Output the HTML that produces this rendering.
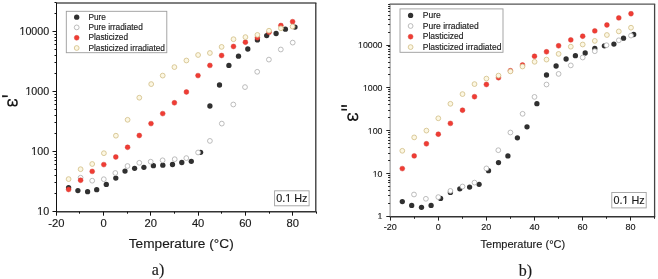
<!DOCTYPE html>
<html><head><meta charset="utf-8"><style>
html,body{margin:0;padding:0;background:#fff;}
body{width:658px;height:279px;overflow:hidden;}
svg{display:block;filter:blur(0.35px);font-family:"Liberation Sans",sans-serif;}
svg text{fill:#1a1a1a;stroke:#1a1a1a;stroke-width:0.15px;}
</style></head><body>
<svg width="658" height="279" viewBox="0 0 658 279">
<line x1="56.0" y1="3.0" x2="316.40000000000003" y2="3.0" stroke="#555" stroke-width="1.3"/>
<line x1="315.8" y1="3.0" x2="315.8" y2="211.7" stroke="#333" stroke-width="1.3"/>
<line x1="56.0" y1="211.7" x2="316.40000000000003" y2="211.7" stroke="#333" stroke-width="1.4"/>
<line x1="56.5" y1="3.0" x2="56.5" y2="211.7" stroke="#111" stroke-width="1"/>
<line x1="56.50" y1="211.7" x2="56.50" y2="215.7" stroke="#111" stroke-width="1"/>
<text x="56.30" y="227.30" font-size="11.2" text-anchor="middle">-20</text>
<line x1="79.50" y1="211.7" x2="79.50" y2="213.7" stroke="#111" stroke-width="1"/>
<line x1="103.50" y1="211.7" x2="103.50" y2="215.7" stroke="#111" stroke-width="1"/>
<text x="103.57" y="227.30" font-size="11.2" text-anchor="middle">0</text>
<line x1="127.50" y1="211.7" x2="127.50" y2="213.7" stroke="#111" stroke-width="1"/>
<line x1="150.50" y1="211.7" x2="150.50" y2="215.7" stroke="#111" stroke-width="1"/>
<text x="150.84" y="227.30" font-size="11.2" text-anchor="middle">20</text>
<line x1="174.50" y1="211.7" x2="174.50" y2="213.7" stroke="#111" stroke-width="1"/>
<line x1="198.50" y1="211.7" x2="198.50" y2="215.7" stroke="#111" stroke-width="1"/>
<text x="198.11" y="227.30" font-size="11.2" text-anchor="middle">40</text>
<line x1="221.50" y1="211.7" x2="221.50" y2="213.7" stroke="#111" stroke-width="1"/>
<line x1="245.50" y1="211.7" x2="245.50" y2="215.7" stroke="#111" stroke-width="1"/>
<text x="245.38" y="227.30" font-size="11.2" text-anchor="middle">60</text>
<line x1="269.50" y1="211.7" x2="269.50" y2="213.7" stroke="#111" stroke-width="1"/>
<line x1="292.50" y1="211.7" x2="292.50" y2="215.7" stroke="#111" stroke-width="1"/>
<text x="292.65" y="227.30" font-size="11.2" text-anchor="middle">80</text>
<line x1="316.50" y1="211.7" x2="316.50" y2="213.7" stroke="#111" stroke-width="1"/>
<line x1="52.5" y1="211.50" x2="56.5" y2="211.50" stroke="#111" stroke-width="1"/>
<text x="49.20" y="215.30" font-size="10.7" text-anchor="end">10</text>
<rect x="37.09" y="214.18" width="2.84" height="1.60" fill="#fff"/>
<rect x="40.91" y="214.18" width="2.41" height="1.60" fill="#fff"/>
<line x1="54.5" y1="193.50" x2="56.5" y2="193.50" stroke="#111" stroke-width="1"/>
<line x1="54.5" y1="182.50" x2="56.5" y2="182.50" stroke="#111" stroke-width="1"/>
<line x1="54.5" y1="175.50" x2="56.5" y2="175.50" stroke="#111" stroke-width="1"/>
<line x1="54.5" y1="169.50" x2="56.5" y2="169.50" stroke="#111" stroke-width="1"/>
<line x1="54.5" y1="164.50" x2="56.5" y2="164.50" stroke="#111" stroke-width="1"/>
<line x1="54.5" y1="160.50" x2="56.5" y2="160.50" stroke="#111" stroke-width="1"/>
<line x1="54.5" y1="157.50" x2="56.5" y2="157.50" stroke="#111" stroke-width="1"/>
<line x1="54.5" y1="154.50" x2="56.5" y2="154.50" stroke="#111" stroke-width="1"/>
<line x1="52.5" y1="151.50" x2="56.5" y2="151.50" stroke="#111" stroke-width="1"/>
<text x="49.20" y="155.30" font-size="10.7" text-anchor="end">100</text>
<rect x="31.14" y="154.18" width="2.84" height="1.60" fill="#fff"/>
<rect x="34.96" y="154.18" width="2.41" height="1.60" fill="#fff"/>
<line x1="54.5" y1="133.50" x2="56.5" y2="133.50" stroke="#111" stroke-width="1"/>
<line x1="54.5" y1="122.50" x2="56.5" y2="122.50" stroke="#111" stroke-width="1"/>
<line x1="54.5" y1="115.50" x2="56.5" y2="115.50" stroke="#111" stroke-width="1"/>
<line x1="54.5" y1="109.50" x2="56.5" y2="109.50" stroke="#111" stroke-width="1"/>
<line x1="54.5" y1="104.50" x2="56.5" y2="104.50" stroke="#111" stroke-width="1"/>
<line x1="54.5" y1="100.50" x2="56.5" y2="100.50" stroke="#111" stroke-width="1"/>
<line x1="54.5" y1="97.50" x2="56.5" y2="97.50" stroke="#111" stroke-width="1"/>
<line x1="54.5" y1="94.50" x2="56.5" y2="94.50" stroke="#111" stroke-width="1"/>
<line x1="52.5" y1="91.50" x2="56.5" y2="91.50" stroke="#111" stroke-width="1"/>
<text x="49.20" y="95.30" font-size="10.7" text-anchor="end">1000</text>
<rect x="25.19" y="94.18" width="2.84" height="1.60" fill="#fff"/>
<rect x="29.01" y="94.18" width="2.41" height="1.60" fill="#fff"/>
<line x1="54.5" y1="73.50" x2="56.5" y2="73.50" stroke="#111" stroke-width="1"/>
<line x1="54.5" y1="62.50" x2="56.5" y2="62.50" stroke="#111" stroke-width="1"/>
<line x1="54.5" y1="55.50" x2="56.5" y2="55.50" stroke="#111" stroke-width="1"/>
<line x1="54.5" y1="49.50" x2="56.5" y2="49.50" stroke="#111" stroke-width="1"/>
<line x1="54.5" y1="44.50" x2="56.5" y2="44.50" stroke="#111" stroke-width="1"/>
<line x1="54.5" y1="40.50" x2="56.5" y2="40.50" stroke="#111" stroke-width="1"/>
<line x1="54.5" y1="37.50" x2="56.5" y2="37.50" stroke="#111" stroke-width="1"/>
<line x1="54.5" y1="34.50" x2="56.5" y2="34.50" stroke="#111" stroke-width="1"/>
<line x1="52.5" y1="31.50" x2="56.5" y2="31.50" stroke="#111" stroke-width="1"/>
<text x="49.20" y="35.30" font-size="10.7" text-anchor="end">10000</text>
<rect x="19.24" y="34.18" width="2.84" height="1.60" fill="#fff"/>
<rect x="23.06" y="34.18" width="2.41" height="1.60" fill="#fff"/>
<line x1="54.5" y1="13.50" x2="56.5" y2="13.50" stroke="#111" stroke-width="1"/>
<line x1="54.5" y1="2.50" x2="56.5" y2="2.50" stroke="#111" stroke-width="1"/>
<circle cx="68.6" cy="187.6" r="2.65" fill="#303030"/>
<circle cx="77.9" cy="190.6" r="2.65" fill="#303030"/>
<circle cx="87.6" cy="191.7" r="2.65" fill="#303030"/>
<circle cx="96.7" cy="189.7" r="2.65" fill="#303030"/>
<circle cx="106.3" cy="184.4" r="2.65" fill="#303030"/>
<circle cx="115.8" cy="178.1" r="2.65" fill="#303030"/>
<circle cx="125.0" cy="171.1" r="2.65" fill="#303030"/>
<circle cx="134.6" cy="168.3" r="2.65" fill="#303030"/>
<circle cx="143.9" cy="167.3" r="2.65" fill="#303030"/>
<circle cx="153.4" cy="165.7" r="2.65" fill="#303030"/>
<circle cx="162.8" cy="165.2" r="2.65" fill="#303030"/>
<circle cx="172.5" cy="164.5" r="2.65" fill="#303030"/>
<circle cx="181.8" cy="162.5" r="2.65" fill="#303030"/>
<circle cx="191.3" cy="161.3" r="2.65" fill="#303030"/>
<circle cx="200.6" cy="152.3" r="2.65" fill="#303030"/>
<circle cx="209.9" cy="106.0" r="2.65" fill="#303030"/>
<circle cx="219.5" cy="85.0" r="2.65" fill="#303030"/>
<circle cx="228.9" cy="65.4" r="2.65" fill="#303030"/>
<circle cx="238.5" cy="56.2" r="2.65" fill="#303030"/>
<circle cx="247.8" cy="49.0" r="2.65" fill="#303030"/>
<circle cx="257.4" cy="39.9" r="2.65" fill="#303030"/>
<circle cx="266.7" cy="35.6" r="2.65" fill="#303030"/>
<circle cx="276.1" cy="33.5" r="2.65" fill="#303030"/>
<circle cx="285.4" cy="29.2" r="2.65" fill="#303030"/>
<circle cx="295.0" cy="27.1" r="2.65" fill="#303030"/>
<circle cx="80.6" cy="177.7" r="2.4" fill="#fff" stroke="#b0b0b0" stroke-width="0.85"/>
<circle cx="92.2" cy="180.7" r="2.4" fill="#fff" stroke="#b0b0b0" stroke-width="0.85"/>
<circle cx="103.8" cy="179.2" r="2.4" fill="#fff" stroke="#b0b0b0" stroke-width="0.85"/>
<circle cx="115.3" cy="173.0" r="2.4" fill="#fff" stroke="#b0b0b0" stroke-width="0.85"/>
<circle cx="127.5" cy="166.0" r="2.4" fill="#fff" stroke="#b0b0b0" stroke-width="0.85"/>
<circle cx="139.3" cy="162.8" r="2.4" fill="#fff" stroke="#b0b0b0" stroke-width="0.85"/>
<circle cx="150.7" cy="161.7" r="2.4" fill="#fff" stroke="#b0b0b0" stroke-width="0.85"/>
<circle cx="162.6" cy="160.3" r="2.4" fill="#fff" stroke="#b0b0b0" stroke-width="0.85"/>
<circle cx="174.7" cy="159.2" r="2.4" fill="#fff" stroke="#b0b0b0" stroke-width="0.85"/>
<circle cx="186.3" cy="158.1" r="2.4" fill="#fff" stroke="#b0b0b0" stroke-width="0.85"/>
<circle cx="198.1" cy="152.5" r="2.4" fill="#fff" stroke="#b0b0b0" stroke-width="0.85"/>
<circle cx="209.9" cy="140.9" r="2.4" fill="#fff" stroke="#b0b0b0" stroke-width="0.85"/>
<circle cx="221.8" cy="123.6" r="2.4" fill="#fff" stroke="#b0b0b0" stroke-width="0.85"/>
<circle cx="233.3" cy="104.5" r="2.4" fill="#fff" stroke="#b0b0b0" stroke-width="0.85"/>
<circle cx="245.0" cy="87.1" r="2.4" fill="#fff" stroke="#b0b0b0" stroke-width="0.85"/>
<circle cx="257.2" cy="71.8" r="2.4" fill="#fff" stroke="#b0b0b0" stroke-width="0.85"/>
<circle cx="268.9" cy="59.6" r="2.4" fill="#fff" stroke="#b0b0b0" stroke-width="0.85"/>
<circle cx="280.8" cy="49.5" r="2.4" fill="#fff" stroke="#b0b0b0" stroke-width="0.85"/>
<circle cx="292.7" cy="42.6" r="2.4" fill="#fff" stroke="#b0b0b0" stroke-width="0.85"/>
<circle cx="68.6" cy="189.5" r="2.4499999999999997" fill="#f03c34" stroke="#d23a32" stroke-width="0.45"/>
<circle cx="80.6" cy="180.3" r="2.4499999999999997" fill="#f03c34" stroke="#d23a32" stroke-width="0.45"/>
<circle cx="92.2" cy="171.4" r="2.4499999999999997" fill="#f03c34" stroke="#d23a32" stroke-width="0.45"/>
<circle cx="103.8" cy="164.6" r="2.4499999999999997" fill="#f03c34" stroke="#d23a32" stroke-width="0.45"/>
<circle cx="115.8" cy="157.0" r="2.4499999999999997" fill="#f03c34" stroke="#d23a32" stroke-width="0.45"/>
<circle cx="127.6" cy="147.3" r="2.4499999999999997" fill="#f03c34" stroke="#d23a32" stroke-width="0.45"/>
<circle cx="139.3" cy="135.5" r="2.4499999999999997" fill="#f03c34" stroke="#d23a32" stroke-width="0.45"/>
<circle cx="151.0" cy="123.6" r="2.4499999999999997" fill="#f03c34" stroke="#d23a32" stroke-width="0.45"/>
<circle cx="162.7" cy="113.6" r="2.4499999999999997" fill="#f03c34" stroke="#d23a32" stroke-width="0.45"/>
<circle cx="174.4" cy="102.8" r="2.4499999999999997" fill="#f03c34" stroke="#d23a32" stroke-width="0.45"/>
<circle cx="186.4" cy="92.0" r="2.4499999999999997" fill="#f03c34" stroke="#d23a32" stroke-width="0.45"/>
<circle cx="198.0" cy="75.6" r="2.4499999999999997" fill="#f03c34" stroke="#d23a32" stroke-width="0.45"/>
<circle cx="209.9" cy="65.4" r="2.4499999999999997" fill="#f03c34" stroke="#d23a32" stroke-width="0.45"/>
<circle cx="221.6" cy="55.5" r="2.4499999999999997" fill="#f03c34" stroke="#d23a32" stroke-width="0.45"/>
<circle cx="233.5" cy="46.5" r="2.4499999999999997" fill="#f03c34" stroke="#d23a32" stroke-width="0.45"/>
<circle cx="245.4" cy="42.2" r="2.4499999999999997" fill="#f03c34" stroke="#d23a32" stroke-width="0.45"/>
<circle cx="257.4" cy="37.7" r="2.4499999999999997" fill="#f03c34" stroke="#d23a32" stroke-width="0.45"/>
<circle cx="269.1" cy="32.3" r="2.4499999999999997" fill="#f03c34" stroke="#d23a32" stroke-width="0.45"/>
<circle cx="280.9" cy="25.5" r="2.4499999999999997" fill="#f03c34" stroke="#d23a32" stroke-width="0.45"/>
<circle cx="292.6" cy="21.7" r="2.4499999999999997" fill="#f03c34" stroke="#d23a32" stroke-width="0.45"/>
<circle cx="68.6" cy="179.1" r="2.4" fill="#fcf7e3" stroke="#d3c08a" stroke-width="0.85"/>
<circle cx="80.6" cy="169.2" r="2.4" fill="#fcf7e3" stroke="#d3c08a" stroke-width="0.85"/>
<circle cx="92.2" cy="164.0" r="2.4" fill="#fcf7e3" stroke="#d3c08a" stroke-width="0.85"/>
<circle cx="103.9" cy="153.2" r="2.4" fill="#fcf7e3" stroke="#d3c08a" stroke-width="0.85"/>
<circle cx="115.9" cy="135.7" r="2.4" fill="#fcf7e3" stroke="#d3c08a" stroke-width="0.85"/>
<circle cx="127.6" cy="119.8" r="2.4" fill="#fcf7e3" stroke="#d3c08a" stroke-width="0.85"/>
<circle cx="139.3" cy="97.7" r="2.4" fill="#fcf7e3" stroke="#d3c08a" stroke-width="0.85"/>
<circle cx="151.2" cy="84.1" r="2.4" fill="#fcf7e3" stroke="#d3c08a" stroke-width="0.85"/>
<circle cx="162.7" cy="75.6" r="2.4" fill="#fcf7e3" stroke="#d3c08a" stroke-width="0.85"/>
<circle cx="174.4" cy="67.1" r="2.4" fill="#fcf7e3" stroke="#d3c08a" stroke-width="0.85"/>
<circle cx="186.4" cy="60.5" r="2.4" fill="#fcf7e3" stroke="#d3c08a" stroke-width="0.85"/>
<circle cx="198.1" cy="55.0" r="2.4" fill="#fcf7e3" stroke="#d3c08a" stroke-width="0.85"/>
<circle cx="209.9" cy="53.0" r="2.4" fill="#fcf7e3" stroke="#d3c08a" stroke-width="0.85"/>
<circle cx="221.6" cy="46.9" r="2.4" fill="#fcf7e3" stroke="#d3c08a" stroke-width="0.85"/>
<circle cx="233.5" cy="39.2" r="2.4" fill="#fcf7e3" stroke="#d3c08a" stroke-width="0.85"/>
<circle cx="245.4" cy="37.1" r="2.4" fill="#fcf7e3" stroke="#d3c08a" stroke-width="0.85"/>
<circle cx="257.4" cy="34.9" r="2.4" fill="#fcf7e3" stroke="#d3c08a" stroke-width="0.85"/>
<circle cx="269.0" cy="30.7" r="2.4" fill="#fcf7e3" stroke="#d3c08a" stroke-width="0.85"/>
<circle cx="280.9" cy="28.3" r="2.4" fill="#fcf7e3" stroke="#d3c08a" stroke-width="0.85"/>
<circle cx="292.6" cy="26.6" r="2.4" fill="#fcf7e3" stroke="#d3c08a" stroke-width="0.85"/>
<rect x="66.3" y="11.3" width="100.50000000000001" height="41.400000000000006" fill="#fff" stroke="#9c9c9c" stroke-width="0.9"/>
<circle cx="76.7" cy="17.2" r="2.65" fill="#303030"/>
<text x="88.40" y="19.86" font-size="8.3">Pure</text>
<circle cx="76.7" cy="27.4" r="2.4" fill="#fff" stroke="#b0b0b0" stroke-width="0.85"/>
<text x="88.40" y="30.06" font-size="8.3">Pure irradiated</text>
<circle cx="76.7" cy="37.8" r="2.4499999999999997" fill="#f03c34" stroke="#d23a32" stroke-width="0.45"/>
<text x="88.40" y="40.46" font-size="8.3">Plasticized</text>
<circle cx="76.7" cy="48.0" r="2.4" fill="#fcf7e3" stroke="#d3c08a" stroke-width="0.85"/>
<text x="88.40" y="50.66" font-size="8.3">Plasticized irradiated</text>
<rect x="274.6" y="190.8" width="34.5" height="15.0" fill="#fff" stroke="#a0a0a0" stroke-width="0.9"/>
<text x="291.85" y="202.13" font-size="10.8" text-anchor="middle">0.1 Hz</text>
<rect x="285.03" y="201.00" width="2.86" height="1.62" fill="#fff"/>
<rect x="288.89" y="201.00" width="2.43" height="1.62" fill="#fff"/>
<text x="181.25" y="247.80" font-size="13.7" text-anchor="middle" textLength="104.9" lengthAdjust="spacingAndGlyphs">Temperature (°C)</text>
<path transform="translate(12.5,102.7) scale(0.94)" d="M-2.6,-3.0 C-4.2,-3.2 -4.8,-1.5 -4.8,0.2 C-4.8,2.2 -3.6,3.2 -2.3,3.2 C-1.0,3.2 -0.2,2.3 0,0.8 L0,-0.7 M0,0.8 C0.2,2.4 1.3,3.2 2.6,3.2 C4.0,3.2 4.8,2.0 4.8,0.2 C4.8,-1.5 4.2,-3.2 2.6,-3.0" fill="none" stroke="#1a1a1a" stroke-width="1.649" stroke-linecap="round"/>
<path d="M2.1,95.25 L7.8,95.44 L7.8,96.96000000000001 L2.1,97.15 Z" fill="#1a1a1a"/>
<text x="158.00" y="275.40" font-size="16" text-anchor="middle" font-family="Liberation Serif">a)</text>
<line x1="389.6" y1="4.15" x2="655.2" y2="4.15" stroke="#555" stroke-width="1.3"/>
<line x1="654.6" y1="4.15" x2="654.6" y2="216.8" stroke="#444" stroke-width="1.3"/>
<line x1="389.6" y1="216.8" x2="655.2" y2="216.8" stroke="#333" stroke-width="1.4"/>
<line x1="390.1" y1="4.15" x2="390.1" y2="216.8" stroke="#888" stroke-width="1"/>
<line x1="390.50" y1="216.8" x2="390.50" y2="220.60000000000002" stroke="#222" stroke-width="1"/>
<text x="390.20" y="230.20" font-size="9.0" text-anchor="middle">-20</text>
<line x1="414.50" y1="216.8" x2="414.50" y2="218.8" stroke="#222" stroke-width="1"/>
<line x1="438.50" y1="216.8" x2="438.50" y2="220.60000000000002" stroke="#222" stroke-width="1"/>
<text x="438.28" y="230.20" font-size="9.0" text-anchor="middle">0</text>
<line x1="462.50" y1="216.8" x2="462.50" y2="218.8" stroke="#222" stroke-width="1"/>
<line x1="486.50" y1="216.8" x2="486.50" y2="220.60000000000002" stroke="#222" stroke-width="1"/>
<text x="486.36" y="230.20" font-size="9.0" text-anchor="middle">20</text>
<line x1="510.50" y1="216.8" x2="510.50" y2="218.8" stroke="#222" stroke-width="1"/>
<line x1="534.50" y1="216.8" x2="534.50" y2="220.60000000000002" stroke="#222" stroke-width="1"/>
<text x="534.44" y="230.20" font-size="9.0" text-anchor="middle">40</text>
<line x1="558.50" y1="216.8" x2="558.50" y2="218.8" stroke="#222" stroke-width="1"/>
<line x1="582.50" y1="216.8" x2="582.50" y2="220.60000000000002" stroke="#222" stroke-width="1"/>
<text x="582.52" y="230.20" font-size="9.0" text-anchor="middle">60</text>
<line x1="606.50" y1="216.8" x2="606.50" y2="218.8" stroke="#222" stroke-width="1"/>
<line x1="630.50" y1="216.8" x2="630.50" y2="220.60000000000002" stroke="#222" stroke-width="1"/>
<text x="630.60" y="230.20" font-size="9.0" text-anchor="middle">80</text>
<line x1="654.50" y1="216.8" x2="654.50" y2="218.8" stroke="#222" stroke-width="1"/>
<line x1="386.3" y1="216.50" x2="390.1" y2="216.50" stroke="#222" stroke-width="1"/>
<text x="382.50" y="219.42" font-size="8.8" text-anchor="end">1</text>
<rect x="377.43" y="218.50" width="2.33" height="1.32" fill="#fff"/>
<rect x="380.57" y="218.50" width="1.98" height="1.32" fill="#fff"/>
<line x1="388.1" y1="203.50" x2="390.1" y2="203.50" stroke="#222" stroke-width="1"/>
<line x1="388.1" y1="195.50" x2="390.1" y2="195.50" stroke="#222" stroke-width="1"/>
<line x1="388.1" y1="190.50" x2="390.1" y2="190.50" stroke="#222" stroke-width="1"/>
<line x1="388.1" y1="186.50" x2="390.1" y2="186.50" stroke="#222" stroke-width="1"/>
<line x1="388.1" y1="182.50" x2="390.1" y2="182.50" stroke="#222" stroke-width="1"/>
<line x1="388.1" y1="180.50" x2="390.1" y2="180.50" stroke="#222" stroke-width="1"/>
<line x1="388.1" y1="177.50" x2="390.1" y2="177.50" stroke="#222" stroke-width="1"/>
<line x1="388.1" y1="175.50" x2="390.1" y2="175.50" stroke="#222" stroke-width="1"/>
<line x1="386.3" y1="173.50" x2="390.1" y2="173.50" stroke="#222" stroke-width="1"/>
<text x="382.50" y="176.59" font-size="8.8" text-anchor="end">10</text>
<rect x="372.54" y="175.67" width="2.33" height="1.32" fill="#fff"/>
<rect x="375.68" y="175.67" width="1.98" height="1.32" fill="#fff"/>
<line x1="388.1" y1="160.50" x2="390.1" y2="160.50" stroke="#222" stroke-width="1"/>
<line x1="388.1" y1="153.50" x2="390.1" y2="153.50" stroke="#222" stroke-width="1"/>
<line x1="388.1" y1="147.50" x2="390.1" y2="147.50" stroke="#222" stroke-width="1"/>
<line x1="388.1" y1="143.50" x2="390.1" y2="143.50" stroke="#222" stroke-width="1"/>
<line x1="388.1" y1="140.50" x2="390.1" y2="140.50" stroke="#222" stroke-width="1"/>
<line x1="388.1" y1="137.50" x2="390.1" y2="137.50" stroke="#222" stroke-width="1"/>
<line x1="388.1" y1="134.50" x2="390.1" y2="134.50" stroke="#222" stroke-width="1"/>
<line x1="388.1" y1="132.50" x2="390.1" y2="132.50" stroke="#222" stroke-width="1"/>
<line x1="386.3" y1="130.50" x2="390.1" y2="130.50" stroke="#222" stroke-width="1"/>
<text x="382.50" y="133.76" font-size="8.8" text-anchor="end">100</text>
<rect x="367.65" y="132.84" width="2.33" height="1.32" fill="#fff"/>
<rect x="370.79" y="132.84" width="1.98" height="1.32" fill="#fff"/>
<line x1="388.1" y1="117.50" x2="390.1" y2="117.50" stroke="#222" stroke-width="1"/>
<line x1="388.1" y1="110.50" x2="390.1" y2="110.50" stroke="#222" stroke-width="1"/>
<line x1="388.1" y1="104.50" x2="390.1" y2="104.50" stroke="#222" stroke-width="1"/>
<line x1="388.1" y1="100.50" x2="390.1" y2="100.50" stroke="#222" stroke-width="1"/>
<line x1="388.1" y1="97.50" x2="390.1" y2="97.50" stroke="#222" stroke-width="1"/>
<line x1="388.1" y1="94.50" x2="390.1" y2="94.50" stroke="#222" stroke-width="1"/>
<line x1="388.1" y1="91.50" x2="390.1" y2="91.50" stroke="#222" stroke-width="1"/>
<line x1="388.1" y1="89.50" x2="390.1" y2="89.50" stroke="#222" stroke-width="1"/>
<line x1="386.3" y1="87.50" x2="390.1" y2="87.50" stroke="#222" stroke-width="1"/>
<text x="382.50" y="90.93" font-size="8.8" text-anchor="end">1000</text>
<rect x="362.75" y="90.01" width="2.33" height="1.32" fill="#fff"/>
<rect x="365.89" y="90.01" width="1.98" height="1.32" fill="#fff"/>
<line x1="388.1" y1="74.50" x2="390.1" y2="74.50" stroke="#222" stroke-width="1"/>
<line x1="388.1" y1="67.50" x2="390.1" y2="67.50" stroke="#222" stroke-width="1"/>
<line x1="388.1" y1="62.50" x2="390.1" y2="62.50" stroke="#222" stroke-width="1"/>
<line x1="388.1" y1="57.50" x2="390.1" y2="57.50" stroke="#222" stroke-width="1"/>
<line x1="388.1" y1="54.50" x2="390.1" y2="54.50" stroke="#222" stroke-width="1"/>
<line x1="388.1" y1="51.50" x2="390.1" y2="51.50" stroke="#222" stroke-width="1"/>
<line x1="388.1" y1="49.50" x2="390.1" y2="49.50" stroke="#222" stroke-width="1"/>
<line x1="388.1" y1="46.50" x2="390.1" y2="46.50" stroke="#222" stroke-width="1"/>
<line x1="386.3" y1="45.50" x2="390.1" y2="45.50" stroke="#222" stroke-width="1"/>
<text x="382.50" y="48.10" font-size="8.8" text-anchor="end">10000</text>
<rect x="357.86" y="47.18" width="2.33" height="1.32" fill="#fff"/>
<rect x="361.00" y="47.18" width="1.98" height="1.32" fill="#fff"/>
<line x1="388.1" y1="32.50" x2="390.1" y2="32.50" stroke="#222" stroke-width="1"/>
<line x1="388.1" y1="24.50" x2="390.1" y2="24.50" stroke="#222" stroke-width="1"/>
<line x1="388.1" y1="19.50" x2="390.1" y2="19.50" stroke="#222" stroke-width="1"/>
<line x1="388.1" y1="15.50" x2="390.1" y2="15.50" stroke="#222" stroke-width="1"/>
<line x1="388.1" y1="11.50" x2="390.1" y2="11.50" stroke="#222" stroke-width="1"/>
<line x1="388.1" y1="8.50" x2="390.1" y2="8.50" stroke="#222" stroke-width="1"/>
<line x1="388.1" y1="6.50" x2="390.1" y2="6.50" stroke="#222" stroke-width="1"/>
<line x1="388.1" y1="4.50" x2="390.1" y2="4.50" stroke="#222" stroke-width="1"/>
<circle cx="402.3" cy="201.6" r="2.65" fill="#303030"/>
<circle cx="411.7" cy="205.4" r="2.65" fill="#303030"/>
<circle cx="421.5" cy="207.3" r="2.65" fill="#303030"/>
<circle cx="431.1" cy="205.4" r="2.65" fill="#303030"/>
<circle cx="440.6" cy="198.4" r="2.65" fill="#303030"/>
<circle cx="450.4" cy="192.4" r="2.65" fill="#303030"/>
<circle cx="459.8" cy="188.8" r="2.65" fill="#303030"/>
<circle cx="469.6" cy="187.1" r="2.65" fill="#303030"/>
<circle cx="479.1" cy="184.3" r="2.65" fill="#303030"/>
<circle cx="488.5" cy="170.7" r="2.65" fill="#303030"/>
<circle cx="498.5" cy="162.6" r="2.65" fill="#303030"/>
<circle cx="507.9" cy="155.9" r="2.65" fill="#303030"/>
<circle cx="517.4" cy="137.8" r="2.65" fill="#303030"/>
<circle cx="527.0" cy="126.8" r="2.65" fill="#303030"/>
<circle cx="536.9" cy="103.7" r="2.65" fill="#303030"/>
<circle cx="546.5" cy="75.0" r="2.65" fill="#303030"/>
<circle cx="556.1" cy="66.0" r="2.65" fill="#303030"/>
<circle cx="566.1" cy="59.0" r="2.65" fill="#303030"/>
<circle cx="575.4" cy="55.7" r="2.65" fill="#303030"/>
<circle cx="585.2" cy="53.0" r="2.65" fill="#303030"/>
<circle cx="594.8" cy="48.4" r="2.65" fill="#303030"/>
<circle cx="604.4" cy="45.8" r="2.65" fill="#303030"/>
<circle cx="613.9" cy="44.1" r="2.65" fill="#303030"/>
<circle cx="623.5" cy="38.2" r="2.65" fill="#303030"/>
<circle cx="633.7" cy="34.5" r="2.65" fill="#303030"/>
<circle cx="414.0" cy="194.5" r="2.4" fill="#fff" stroke="#b0b0b0" stroke-width="0.85"/>
<circle cx="425.9" cy="198.8" r="2.4" fill="#fff" stroke="#b0b0b0" stroke-width="0.85"/>
<circle cx="438.3" cy="197.1" r="2.4" fill="#fff" stroke="#b0b0b0" stroke-width="0.85"/>
<circle cx="450.4" cy="190.9" r="2.4" fill="#fff" stroke="#b0b0b0" stroke-width="0.85"/>
<circle cx="462.5" cy="186.5" r="2.4" fill="#fff" stroke="#b0b0b0" stroke-width="0.85"/>
<circle cx="474.5" cy="182.6" r="2.4" fill="#fff" stroke="#b0b0b0" stroke-width="0.85"/>
<circle cx="486.4" cy="168.4" r="2.4" fill="#fff" stroke="#b0b0b0" stroke-width="0.85"/>
<circle cx="498.3" cy="150.2" r="2.4" fill="#fff" stroke="#b0b0b0" stroke-width="0.85"/>
<circle cx="510.4" cy="132.5" r="2.4" fill="#fff" stroke="#b0b0b0" stroke-width="0.85"/>
<circle cx="522.6" cy="113.8" r="2.4" fill="#fff" stroke="#b0b0b0" stroke-width="0.85"/>
<circle cx="534.5" cy="96.9" r="2.4" fill="#fff" stroke="#b0b0b0" stroke-width="0.85"/>
<circle cx="546.5" cy="84.5" r="2.4" fill="#fff" stroke="#b0b0b0" stroke-width="0.85"/>
<circle cx="558.6" cy="73.9" r="2.4" fill="#fff" stroke="#b0b0b0" stroke-width="0.85"/>
<circle cx="570.8" cy="65.4" r="2.4" fill="#fff" stroke="#b0b0b0" stroke-width="0.85"/>
<circle cx="582.7" cy="57.5" r="2.4" fill="#fff" stroke="#b0b0b0" stroke-width="0.85"/>
<circle cx="594.8" cy="51.2" r="2.4" fill="#fff" stroke="#b0b0b0" stroke-width="0.85"/>
<circle cx="606.5" cy="45.2" r="2.4" fill="#fff" stroke="#b0b0b0" stroke-width="0.85"/>
<circle cx="618.8" cy="40.3" r="2.4" fill="#fff" stroke="#b0b0b0" stroke-width="0.85"/>
<circle cx="631.0" cy="35.6" r="2.4" fill="#fff" stroke="#b0b0b0" stroke-width="0.85"/>
<circle cx="402.3" cy="168.6" r="2.4499999999999997" fill="#f03c34" stroke="#d23a32" stroke-width="0.45"/>
<circle cx="414.2" cy="155.9" r="2.4499999999999997" fill="#f03c34" stroke="#d23a32" stroke-width="0.45"/>
<circle cx="426.4" cy="143.8" r="2.4499999999999997" fill="#f03c34" stroke="#d23a32" stroke-width="0.45"/>
<circle cx="438.3" cy="134.2" r="2.4499999999999997" fill="#f03c34" stroke="#d23a32" stroke-width="0.45"/>
<circle cx="450.4" cy="123.4" r="2.4499999999999997" fill="#f03c34" stroke="#d23a32" stroke-width="0.45"/>
<circle cx="462.5" cy="110.2" r="2.4499999999999997" fill="#f03c34" stroke="#d23a32" stroke-width="0.45"/>
<circle cx="474.5" cy="96.7" r="2.4499999999999997" fill="#f03c34" stroke="#d23a32" stroke-width="0.45"/>
<circle cx="486.4" cy="84.5" r="2.4499999999999997" fill="#f03c34" stroke="#d23a32" stroke-width="0.45"/>
<circle cx="498.5" cy="77.7" r="2.4499999999999997" fill="#f03c34" stroke="#d23a32" stroke-width="0.45"/>
<circle cx="510.4" cy="70.7" r="2.4499999999999997" fill="#f03c34" stroke="#d23a32" stroke-width="0.45"/>
<circle cx="522.5" cy="65.0" r="2.4499999999999997" fill="#f03c34" stroke="#d23a32" stroke-width="0.45"/>
<circle cx="534.5" cy="56.3" r="2.4499999999999997" fill="#f03c34" stroke="#d23a32" stroke-width="0.45"/>
<circle cx="546.5" cy="51.8" r="2.4499999999999997" fill="#f03c34" stroke="#d23a32" stroke-width="0.45"/>
<circle cx="558.6" cy="45.8" r="2.4499999999999997" fill="#f03c34" stroke="#d23a32" stroke-width="0.45"/>
<circle cx="570.8" cy="39.9" r="2.4499999999999997" fill="#f03c34" stroke="#d23a32" stroke-width="0.45"/>
<circle cx="582.7" cy="36.2" r="2.4499999999999997" fill="#f03c34" stroke="#d23a32" stroke-width="0.45"/>
<circle cx="594.8" cy="30.9" r="2.4499999999999997" fill="#f03c34" stroke="#d23a32" stroke-width="0.45"/>
<circle cx="606.9" cy="25.0" r="2.4499999999999997" fill="#f03c34" stroke="#d23a32" stroke-width="0.45"/>
<circle cx="618.8" cy="17.9" r="2.4499999999999997" fill="#f03c34" stroke="#d23a32" stroke-width="0.45"/>
<circle cx="631.0" cy="13.7" r="2.4499999999999997" fill="#f03c34" stroke="#d23a32" stroke-width="0.45"/>
<circle cx="402.3" cy="150.8" r="2.4" fill="#fcf7e3" stroke="#d3c08a" stroke-width="0.85"/>
<circle cx="414.2" cy="137.4" r="2.4" fill="#fcf7e3" stroke="#d3c08a" stroke-width="0.85"/>
<circle cx="426.4" cy="130.6" r="2.4" fill="#fcf7e3" stroke="#d3c08a" stroke-width="0.85"/>
<circle cx="438.3" cy="118.3" r="2.4" fill="#fcf7e3" stroke="#d3c08a" stroke-width="0.85"/>
<circle cx="450.4" cy="103.8" r="2.4" fill="#fcf7e3" stroke="#d3c08a" stroke-width="0.85"/>
<circle cx="462.5" cy="94.1" r="2.4" fill="#fcf7e3" stroke="#d3c08a" stroke-width="0.85"/>
<circle cx="474.5" cy="84.1" r="2.4" fill="#fcf7e3" stroke="#d3c08a" stroke-width="0.85"/>
<circle cx="486.4" cy="78.6" r="2.4" fill="#fcf7e3" stroke="#d3c08a" stroke-width="0.85"/>
<circle cx="498.5" cy="75.6" r="2.4" fill="#fcf7e3" stroke="#d3c08a" stroke-width="0.85"/>
<circle cx="510.4" cy="71.4" r="2.4" fill="#fcf7e3" stroke="#d3c08a" stroke-width="0.85"/>
<circle cx="522.5" cy="66.5" r="2.4" fill="#fcf7e3" stroke="#d3c08a" stroke-width="0.85"/>
<circle cx="534.6" cy="61.8" r="2.4" fill="#fcf7e3" stroke="#d3c08a" stroke-width="0.85"/>
<circle cx="546.5" cy="59.6" r="2.4" fill="#fcf7e3" stroke="#d3c08a" stroke-width="0.85"/>
<circle cx="558.6" cy="53.9" r="2.4" fill="#fcf7e3" stroke="#d3c08a" stroke-width="0.85"/>
<circle cx="570.8" cy="46.7" r="2.4" fill="#fcf7e3" stroke="#d3c08a" stroke-width="0.85"/>
<circle cx="582.7" cy="44.5" r="2.4" fill="#fcf7e3" stroke="#d3c08a" stroke-width="0.85"/>
<circle cx="594.8" cy="40.9" r="2.4" fill="#fcf7e3" stroke="#d3c08a" stroke-width="0.85"/>
<circle cx="606.9" cy="35.0" r="2.4" fill="#fcf7e3" stroke="#d3c08a" stroke-width="0.85"/>
<circle cx="618.8" cy="31.4" r="2.4" fill="#fcf7e3" stroke="#d3c08a" stroke-width="0.85"/>
<circle cx="631.0" cy="27.7" r="2.4" fill="#fcf7e3" stroke="#d3c08a" stroke-width="0.85"/>
<rect x="400.0" y="8.9" width="103.0" height="43.4" fill="#fff" stroke="#9c9c9c" stroke-width="0.9"/>
<circle cx="410.6" cy="15.4" r="2.65" fill="#303030"/>
<text x="422.80" y="18.13" font-size="8.53">Pure</text>
<circle cx="410.6" cy="26.0" r="2.4" fill="#fff" stroke="#b0b0b0" stroke-width="0.85"/>
<text x="422.80" y="28.73" font-size="8.53">Pure irradiated</text>
<circle cx="410.6" cy="36.7" r="2.4499999999999997" fill="#f03c34" stroke="#d23a32" stroke-width="0.45"/>
<text x="422.80" y="39.43" font-size="8.53">Plasticized</text>
<circle cx="410.6" cy="47.1" r="2.4" fill="#fcf7e3" stroke="#d3c08a" stroke-width="0.85"/>
<text x="422.80" y="49.83" font-size="8.53">Plasticized irradiated</text>
<rect x="611.8" y="192.5" width="34.40000000000009" height="15.400000000000006" fill="#fff" stroke="#a0a0a0" stroke-width="0.9"/>
<text x="629.00" y="204.03" font-size="10.8" text-anchor="middle">0.1 Hz</text>
<rect x="622.18" y="202.90" width="2.86" height="1.62" fill="#fff"/>
<rect x="626.04" y="202.90" width="2.43" height="1.62" fill="#fff"/>
<text x="522.85" y="247.70" font-size="11.1" text-anchor="middle" textLength="84.7" lengthAdjust="spacingAndGlyphs">Temperature (°C)</text>
<path transform="translate(352.8,116.9) scale(1.0)" d="M-2.6,-3.0 C-4.2,-3.2 -4.8,-1.5 -4.8,0.2 C-4.8,2.2 -3.6,3.2 -2.3,3.2 C-1.0,3.2 -0.2,2.3 0,0.8 L0,-0.7 M0,0.8 C0.2,2.4 1.3,3.2 2.6,3.2 C4.0,3.2 4.8,2.0 4.8,0.2 C4.8,-1.5 4.2,-3.2 2.6,-3.0" fill="none" stroke="#1a1a1a" stroke-width="1.550" stroke-linecap="round"/>
<path d="M341.3,105.1 L347.0,105.28 L347.0,106.72 L341.3,106.9 Z" fill="#1a1a1a"/>
<path d="M341.3,108.8 L347.0,108.98 L347.0,110.42 L341.3,110.60000000000001 Z" fill="#1a1a1a"/>
<text x="525.30" y="275.50" font-size="16" text-anchor="middle" font-family="Liberation Serif">b)</text>
</svg>
</body></html>
